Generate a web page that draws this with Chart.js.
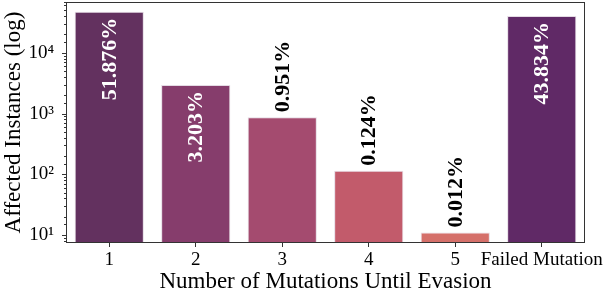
<!DOCTYPE html>
<html>
<head>
<meta charset="utf-8">
<script src="https://cdn.jsdelivr.net/npm/chart.js@4/dist/chart.umd.min.js"></script>
<style>
  html, body { margin: 0; padding: 0; background: #fff; }
  #wrap { width: 604px; height: 296px; }
</style>
</head>
<body>
<div id="wrap"><canvas id="mutations-chart" width="604" height="296"></canvas></div>
<script>
const categories = ['1', '2', '3', '4', '5', 'Failed Mutation'];
const instances = [47550, 2936, 872, 114, 11, 40180];
const percentLabels = ['51.876%', '3.203%', '0.951%', '0.124%', '0.012%', '43.834%'];
const labelInside = [true, true, false, false, false, true];
const barColors = ['#63315f', '#863d6c', '#a44b6f', '#c25b6b', '#d5706a', '#602966'];

const serif = '"Liberation Serif", "Times New Roman", serif';

const isPow10 = (v) => Math.abs(Math.log10(v) - Math.round(Math.log10(v))) < 1e-9;
const sup = { '0': '\u2070', '1': '\u00b9', '2': '\u00b2', '3': '\u00b3', '4': '\u2074', '5': '\u2075' };

// labels rotated along the bars, plus frame and tick marks
const decorPlugin = {
    id: 'decor',
    afterDatasetsDraw(chart) {
        const ctx = chart.ctx;
        const meta = chart.getDatasetMeta(0);
        ctx.save();
        ctx.font = 'bold 22px ' + serif;
        ctx.textBaseline = 'middle';
        meta.data.forEach((bar, i) => {
            ctx.save();
            ctx.translate(bar.x, bar.y);
            ctx.rotate(-Math.PI / 2);
            if (labelInside[i]) {
                ctx.textAlign = 'right';
                ctx.fillStyle = '#ffffff';
                ctx.fillText(percentLabels[i], -6, 1);
            } else {
                ctx.textAlign = 'left';
                ctx.fillStyle = '#000000';
                ctx.fillText(percentLabels[i], 5, 1);
            }
            ctx.restore();
        });
        ctx.restore();
    },
    afterDraw(chart) {
        const ctx = chart.ctx;
        const area = chart.chartArea;
        const y = chart.scales.y;
        ctx.save();
        ctx.strokeStyle = '#333333';
        ctx.lineWidth = 1;
        ctx.strokeRect(area.left + 0.5, area.top + 0.5, area.right - area.left - 1, area.bottom - area.top - 1);
        y.ticks.forEach((t) => {
            const py = Math.round(y.getPixelForValue(t.value)) + 0.5;
            if (py < area.top || py > area.bottom) return;
            const len = isPow10(t.value) ? 4 : 2;
            ctx.beginPath();
            ctx.moveTo(area.left, py);
            ctx.lineTo(area.left - len, py);
            ctx.stroke();
        });
        ctx.restore();
    }
};

new Chart(document.getElementById('mutations-chart'), {
    type: 'bar',
    data: {
        labels: categories,
        datasets: [{
            label: 'Affected Instances',
            data: instances,
            backgroundColor: barColors,
            borderColor: 'rgba(225, 215, 225, 0.9)',
            borderWidth: 1,
            borderSkipped: false,
            categoryPercentage: 1.0,
            barPercentage: 0.8
        }]
    },
    options: {
        responsive: false,
        animation: false,
        layout: { padding: { top: 2, right: 19, left: 0, bottom: 0 } },
        plugins: {
            legend: { display: false },
            tooltip: { enabled: false }
        },
        scales: {
            x: {
                grid: {
                    display: true,
                    drawOnChartArea: false,
                    offset: false,
                    tickLength: 4,
                    color: '#333333'
                },
                border: { display: false },
                ticks: {
                    color: '#000',
                    padding: 2,
                    font: { family: serif, size: 19 },
                    maxRotation: 0,
                    autoSkip: false
                },
                title: {
                    display: true,
                    text: 'Number of Mutations Until Evasion',
                    color: '#000',
                    font: { family: serif, size: 23 },
                    padding: { top: 0, bottom: 0 }
                },
                afterFit(scale) {
                    scale.height = 53;
                    scale.paddingLeft = 0;
                    scale.paddingRight = 0;
                }
            },
            y: {
                type: 'logarithmic',
                min: 7.4,
                max: 68500,
                grid: { display: false },
                border: { display: false },
                ticks: {
                    color: '#000',
                    padding: 4,
                    autoSkip: false,
                    font: { family: serif, size: 19 },
                    callback: (v) => isPow10(v) ? '10' + sup[String(Math.round(Math.log10(v)))] : ''
                },
                title: {
                    display: true,
                    text: 'Affected Instances (log)',
                    color: '#000',
                    font: { family: serif, size: 23 },
                    padding: { top: 0, bottom: 0 }
                },
                afterFit(scale) {
                    scale.width = 66;
                    scale.paddingTop = 0;
                    scale.paddingBottom = 0;
                }
            }
        }
    },
    plugins: [decorPlugin]
});
</script>
</body>
</html>
